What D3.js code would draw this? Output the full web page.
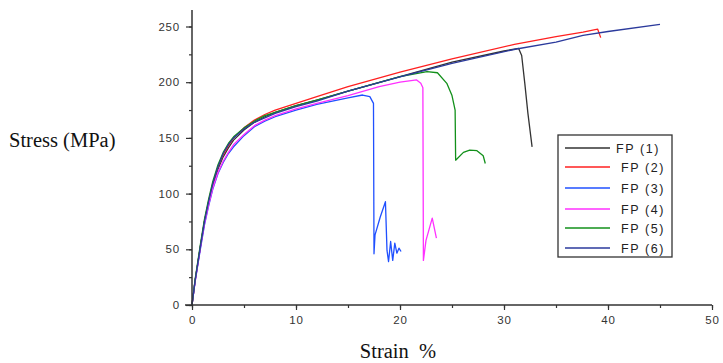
<!DOCTYPE html>
<html><head><meta charset="utf-8">
<script src="https://cdn.jsdelivr.net/npm/d3@7/dist/d3.min.js"></script>
<style>body{margin:0;background:#fff;}svg{display:block;}</style>
</head><body>
<svg id="chart" width="723" height="363"></svg>
<script>
const xTicks = [0,10,20,30,40,50];
const yTicks = [0,50,100,150,200,250];
const seriesNames = ["FP (1)","FP (2)","FP (3)","FP (4)","FP (5)","FP (6)"];
const seriesColors = ["#333333","#ff2020","#2050ff","#ff30ff","#12901a","#2b3a9c"];

const fp1 = [[0,0],[0.3,22],[0.8,52],[1.2,75],[1.6,92],[2,108],[2.5,122],[3,133],[3.5,141],[4,148],[5,157],[6,164],[7,169],[8,173],[10,179],[12,184],[15,192],[20,205],[25,218],[30,228],[31.4,230.4],[31.7,224],[32,199],[32.3,172],[32.7,142]];
const fp2 = [[0,0],[0.3,22],[0.8,52],[1.2,75],[1.6,93],[2,109],[2.5,124],[3,135],[3.5,143],[4,150],[5,159],[6,166],[7,171],[8,175],[10,181],[12,187],[15,196],[20,209],[25,221],[31,234],[35,241],[37.6,245],[39,247.7],[39.3,240]];
const fp3 = [[0,0],[0.3,21],[0.8,50],[1.2,72],[1.6,89],[2,104],[2.5,118],[3,128],[3.5,136],[4,142],[5,152],[6,160],[7,165],[8,169],[10,175],[12,180],[15,186],[16.4,188.5],[17.1,187],[17.45,181],[17.5,46],[17.6,63],[18.1,79],[18.6,92.7],[18.75,49],[18.9,39],[19.1,57],[19.3,40],[19.5,55.6],[19.7,46.5],[19.9,51],[20.1,48]];
const fp4 = [[0,0],[0.3,21],[0.8,51],[1.2,73],[1.6,90],[2,105],[2.5,119],[3,129],[3.5,137],[4,144],[5,153],[6,161],[7,166],[8,170],[10,176],[12,181],[15,188],[18,196],[20,200],[21.6,202],[22,199],[22.2,195],[22.25,40],[22.5,58],[23.1,78],[23.5,60]];
const fp5 = [[0,0],[0.3,23],[0.8,54],[1.2,77],[1.6,95],[2,111],[2.5,126],[3,137],[3.5,145],[4,151],[5,159],[6,165],[7,170],[8,173],[10,179],[12,184],[15,192],[20,205],[22.6,209.5],[23.6,208.5],[24.5,199],[25,188],[25.3,175],[25.35,130],[26.1,137],[26.7,139],[27.4,138.5],[28,134],[28.2,127]];
const fp6 = [[0,0],[0.3,22],[0.8,52],[1.2,75],[1.6,93],[2,109],[2.5,124],[3,136],[3.5,144],[4,150],[5,158],[6,164],[7,168],[8,172],[10,178],[12,183],[15,192],[20,204.7],[25,217],[31.2,229.8],[35,236],[37.6,242],[40,245.5],[45,252]];
const seriesData = [fp1,fp2,fp3,fp4,fp5,fp6];

const svg = d3.select("#chart");
const x = d3.scaleLinear().domain([0,50]).range([192,712]);
const y = d3.scaleLinear().domain([0,250]).range([305,26.5]);

// lines
const line = d3.line().x(d=>x(d[0])).y(d=>y(d[1])).curve(d3.curveLinear);
seriesData.forEach((s,i)=>{
  svg.append("path").attr("d",line(s)).attr("fill","none")
    .attr("stroke",seriesColors[i]).attr("stroke-width",1.3).attr("stroke-linejoin","round");
});

// axes
const axisColor = "#333";
const gx = svg.append("g").attr("transform","translate(0,305)");
gx.call(d3.axisBottom(x).tickValues(d3.range(0,51,5)).tickSize(3).tickFormat(""));
gx.call(g=>g.select(".domain").remove());
const gx2 = svg.append("g").attr("transform","translate(0,305)");
gx2.call(d3.axisBottom(x).tickValues(xTicks).tickSize(5).tickPadding(6).tickFormat(d3.format("d")));
gx2.select(".domain").attr("d","M185,0H712").attr("stroke",axisColor).attr("stroke-width",1.5);

const gy = svg.append("g").attr("transform","translate(192,0)");
gy.call(d3.axisLeft(y).tickValues(d3.range(0,251,25)).tickSize(3).tickFormat(""));
gy.call(g=>g.select(".domain").remove());
const gy2 = svg.append("g").attr("transform","translate(192,0)");
gy2.call(d3.axisLeft(y).tickValues(yTicks).tickSize(6).tickPadding(6).tickFormat(d3.format("d")));
gy2.select(".domain").attr("d","M0,305V10").attr("stroke",axisColor).attr("stroke-width",1.5);
svg.selectAll(".tick line").attr("stroke",axisColor).attr("stroke-width",1.2);
svg.selectAll(".tick text").attr("font-family","'Liberation Sans', Arial, sans-serif")
  .attr("font-size",11.5).attr("fill","#333").attr("letter-spacing",0.8);

// axis titles
svg.append("text").attr("x",9).attr("y",147).text("Stress (MPa)")
  .attr("font-family","'Liberation Serif', 'Times New Roman', serif").attr("font-size",20.5).attr("fill","#111");
svg.append("text").attr("x",398).attr("y",358).attr("text-anchor","middle").attr("xml:space","preserve").text("Strain  %")
  .attr("font-family","'Liberation Serif', 'Times New Roman', serif").attr("font-size",20.5).attr("fill","#111");

// legend
const lg = svg.append("g");
lg.append("rect").attr("x",558).attr("y",135).attr("width",114).attr("height",122)
  .attr("fill","#fff").attr("stroke","#333").attr("stroke-width",1.3);
const legY = [148,167,188,209,228,248];
seriesNames.forEach((n,i)=>{
  lg.append("line").attr("x1",565).attr("x2",610).attr("y1",legY[i]).attr("y2",legY[i])
    .attr("stroke",seriesColors[i]).attr("stroke-width",1.5);
  lg.append("text").attr("x",i===0?616:621).attr("y",legY[i]+4.5).text(n)
    .attr("font-family","'Liberation Sans', Arial, sans-serif").attr("font-size",12.5)
    .attr("letter-spacing",1.6).attr("fill","#222");
});
</script>
</body></html>
